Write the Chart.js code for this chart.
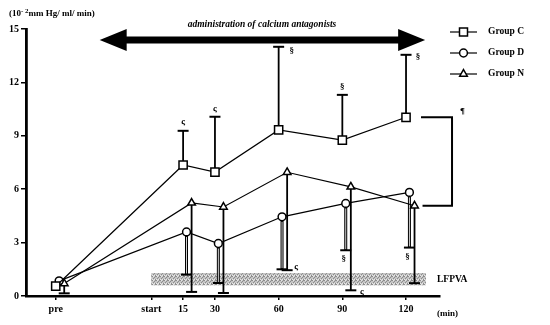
<!DOCTYPE html>
<html>
<head>
<meta charset="utf-8">
<script src="https://cdn.jsdelivr.net/npm/chart.js@4.4.1/dist/chart.umd.min.js"></script>
<style>
  html, body { margin: 0; padding: 0; background: #fff; }
  #wrap { width: 550px; height: 325px; position: relative; }
</style>
</head>
<body>
<div id="wrap"><canvas id="chart"></canvas></div>
<script>
// time points (min), "pre" is drawn left of "start"
const timePoints = [-45, 15, 30, 60, 90, 120];
const tickValues = [-45, 0, 15, 30, 60, 90, 120];
const tickLabels = ['pre', 'start', '15', '30', '60', '90', '120'];

const groupC = [0.55, 7.36, 6.96, 9.33, 8.76, 10.04];
const groupD = [0.85, 3.6, 2.95, 4.45, 5.2, 5.82];
const groupN = [0.7, 5.23, 5.0, 6.95, 6.13, 5.07];

// error bar ends (C upward, D and N downward)
const upperC = [null, 9.28, 10.07, 14.0, 11.3, 13.55];
const lowerD = [null, 1.2, 0.73, 1.5, 2.57, 2.72];
const lowerN = [0.15, 0.23, 0.17, 1.45, 0.32, 0.72];

const yTicks = [0, 3, 6, 9, 12, 15];
const lfpva = { from: 0, to: 129.4, low: 0.6, high: 1.29 };

const serif = "'Liberation Serif', 'DejaVu Serif', serif";
const dodge = { C: 0, D: 1.6, N: 4.0 }; // small horizontal offset so markers don't overlap
const radius = { rect: 5.8, circle: 3.9, triangle: 4.4 };

function pts(vals, off) {
    return vals.map((v, i) => ({ x: timePoints[i] + off, y: v }));
}

// stippled grey fill for the LFPVA band
function bandPattern(ctx) {
    const c = document.createElement('canvas');
    c.width = 4; c.height = 4;
    const p = c.getContext('2d');
    p.fillStyle = '#c4c4c4';
    p.fillRect(0, 0, 4, 4);
    p.fillStyle = '#8c8c8c';
    [[0, 0], [2, 1], [1, 2], [3, 3], [3, 0]].forEach(([a, b]) => p.fillRect(a, b, 1, 1));
    p.fillStyle = '#e6e6e6';
    [[1, 0], [0, 3], [2, 3]].forEach(([a, b]) => p.fillRect(a, b, 1, 1));
    return ctx.createPattern(c, 'repeat');
}

function drawMarker(ctx, style, x, y) {
    ctx.save();
    ctx.fillStyle = '#fff';
    ctx.strokeStyle = '#000';
    ctx.lineWidth = 1.5;
    ctx.beginPath();
    if (style === 'rect') ctx.rect(x - 4, y - 4, 8, 8);
    else if (style === 'circle') ctx.arc(x, y, 3.9, 0, Math.PI * 2);
    else { ctx.moveTo(x, y - 4.4); ctx.lineTo(x + 3.8, y + 2.2); ctx.lineTo(x - 3.8, y + 2.2); ctx.closePath(); }
    ctx.fill();
    ctx.stroke();
    ctx.restore();
}

const decor = {
    id: 'decor',
    beforeDatasetsDraw(chart) {
        const { ctx, scales: { x, y } } = chart;
        ctx.save();
        // LFPVA band
        ctx.fillStyle = bandPattern(ctx);
        const bx0 = x.getPixelForValue(lfpva.from), bx1 = x.getPixelForValue(lfpva.to);
        const by0 = y.getPixelForValue(lfpva.high), by1 = y.getPixelForValue(lfpva.low);
        ctx.fillRect(bx0, by0, bx1 - bx0, by1 - by0);

        // error bars
        const bar = (t, v, end, hollow) => {
            if (end == null) return;
            const px = x.getPixelForValue(t);
            const p0 = y.getPixelForValue(v), p1 = y.getPixelForValue(end);
            ctx.strokeStyle = '#000';
            ctx.lineWidth = hollow ? 3 : 1.8;
            ctx.beginPath(); ctx.moveTo(px, p0); ctx.lineTo(px, p1); ctx.stroke();
            if (hollow) {
                ctx.strokeStyle = '#d0d0d0';
                ctx.lineWidth = 1;
                ctx.beginPath(); ctx.moveTo(px, p0 + 5); ctx.lineTo(px, p1 - 1); ctx.stroke();
            }
            ctx.strokeStyle = '#000';
            ctx.lineWidth = 2;
            ctx.beginPath(); ctx.moveTo(px - 5.5, p1); ctx.lineTo(px + 5.5, p1); ctx.stroke();
        };
        timePoints.forEach((t, i) => {
            bar(t + dodge.C, groupC[i], upperC[i], false);
            bar(t + dodge.D, groupD[i], lowerD[i], true);
            bar(t + dodge.N, groupN[i], lowerN[i], false);
        });
        ctx.restore();
    },
    afterDraw(chart) {
        const { ctx, scales: { x, y } } = chart;
        ctx.save();
        ctx.fillStyle = '#000';
        ctx.strokeStyle = '#000';

        // unit label
        ctx.textBaseline = 'middle';
        ctx.textAlign = 'left';
        ctx.font = 'bold 9px ' + serif;
        let tx = 9;
        ctx.fillText('(10', tx, 14); tx += ctx.measureText('(10').width;
        ctx.font = 'bold 7px ' + serif;
        ctx.fillText('- 2', tx, 11); tx += ctx.measureText('- 2').width;
        ctx.font = 'bold 9px ' + serif;
        ctx.fillText('mm Hg/ ml/ min)', tx, 14);

        // (min)
        ctx.font = 'bold 9px ' + serif;
        ctx.fillText('(min)', 437, 314);

        // double arrow
        const ax0 = x.getPixelForValue(-24.3), ax1 = x.getPixelForValue(129);
        const ay = 40, head = 27, hh = 11, sh = 3.5;
        ctx.beginPath();
        ctx.moveTo(ax0, ay);
        ctx.lineTo(ax0 + head, ay - hh);
        ctx.lineTo(ax0 + head, ay - sh);
        ctx.lineTo(ax1 - head, ay - sh);
        ctx.lineTo(ax1 - head, ay - hh);
        ctx.lineTo(ax1, ay);
        ctx.lineTo(ax1 - head, ay + hh);
        ctx.lineTo(ax1 - head, ay + sh);
        ctx.lineTo(ax0 + head, ay + sh);
        ctx.lineTo(ax0 + head, ay + hh);
        ctx.closePath();
        ctx.fill();
        ctx.font = 'italic bold 9.5px ' + serif;
        ctx.textAlign = 'center';
        ctx.fillText('administration of calcium antagonists', 262, 25);

        // legend
        const legend = [['Group C', 'rect', 32], ['Group D', 'circle', 53], ['Group N', 'triangle', 74]];
        ctx.textAlign = 'left';
        ctx.font = 'bold 9.5px ' + serif;
        legend.forEach(([label, style, ly]) => {
            ctx.lineWidth = 1.2;
            ctx.beginPath(); ctx.moveTo(450, ly); ctx.lineTo(477, ly); ctx.stroke();
            drawMarker(ctx, style, 463.5, ly);
            ctx.fillText(label, 488, ly);
        });

        // LFPVA label
        ctx.font = 'bold 9.5px ' + serif;
        ctx.fillText('LFPVA', 437, 280);

        // bracket between C and N at 120 min
        const cx = x.getPixelForValue(120 + dodge.C), nx = x.getPixelForValue(120 + dodge.N);
        const cy = y.getPixelForValue(groupC[5]), ny = y.getPixelForValue(groupN[5]);
        const brx = cx + 46;
        ctx.lineWidth = 2;
        ctx.beginPath();
        ctx.moveTo(cx + 15, cy); ctx.lineTo(brx, cy); ctx.lineTo(brx, ny); ctx.lineTo(nx + 8, ny);
        ctx.stroke();
        ctx.font = 'bold 9px ' + serif;
        ctx.fillText('¶', brx + 8, cy - 6);

        // significance marks next to error bar ends
        const marks = [
            [15 + dodge.C, upperC[1], 'ς', 0, -9],
            [30 + dodge.C, upperC[2], 'ς', 0, -8],
            [60 + dodge.C, upperC[3], '§', 13, 4],
            [90 + dodge.C, upperC[4], '§', 0, -8],
            [120 + dodge.C, upperC[5], '§', 12, 2],
            [60 + dodge.D, lowerD[3], 'ς', 14, -3],
            [90 + dodge.D, lowerD[4], '§', -2, 8],
            [90 + dodge.N, lowerN[4], 'ς', 11, 1],
            [120 + dodge.D, lowerD[5], '§', -2, 9]
        ];
        ctx.textAlign = 'center';
        marks.forEach(([t, v, s, dx, dy]) => {
            ctx.fillText(s, x.getPixelForValue(t) + dx, y.getPixelForValue(v) + dy);
        });
        ctx.restore();
    }
};

const lineStyle = (label, data, style) => ({
    label,
    data,
    borderColor: '#000',
    borderWidth: 1.2,
    pointStyle: style,
    pointRadius: radius[style],
    pointBackgroundColor: '#fff',
    pointBorderColor: '#000',
    pointBorderWidth: 1.5,
    tension: 0
});

new Chart(document.getElementById('chart'), {
    type: 'line',
    data: {
        datasets: [
            lineStyle('Group C', pts(groupC, dodge.C), 'rect'),
            lineStyle('Group D', pts(groupD, dodge.D), 'circle'),
            lineStyle('Group N', pts(groupN, dodge.N), 'triangle')
        ]
    },
    options: {
        responsive: true,
        maintainAspectRatio: false,
        animation: false,
        layout: { padding: { left: 0, top: 29, right: 110, bottom: 0 } },
        plugins: { legend: { display: false }, tooltip: { enabled: false } },
        scales: {
            x: {
                type: 'linear',
                min: -59,
                max: 136,
                afterBuildTicks: s => { s.ticks = tickValues.map(v => ({ value: v })); },
                afterFit: s => { s.height = 29; },
                border: { color: '#000', width: 2.5 },
                grid: { drawOnChartArea: false, tickLength: 4, color: '#000', lineWidth: 1.5 },
                ticks: {
                    autoSkip: false,
                    maxRotation: 0,
                    padding: 3,
                    color: '#000',
                    font: { family: serif, size: 10, weight: 'bold' },
                    callback: v => tickLabels[tickValues.indexOf(v)]
                }
            },
            y: {
                min: 0,
                max: 15,
                afterBuildTicks: s => { s.ticks = yTicks.map(v => ({ value: v })); },
                afterFit: s => { s.width = 26; },
                border: { color: '#000', width: 2.8 },
                grid: { drawOnChartArea: false, tickLength: 5, color: '#000', lineWidth: 1.5 },
                ticks: {
                    padding: 2,
                    color: '#000',
                    font: { family: serif, size: 10, weight: 'bold' }
                }
            }
        }
    },
    plugins: [decor]
});
</script>
</body>
</html>
